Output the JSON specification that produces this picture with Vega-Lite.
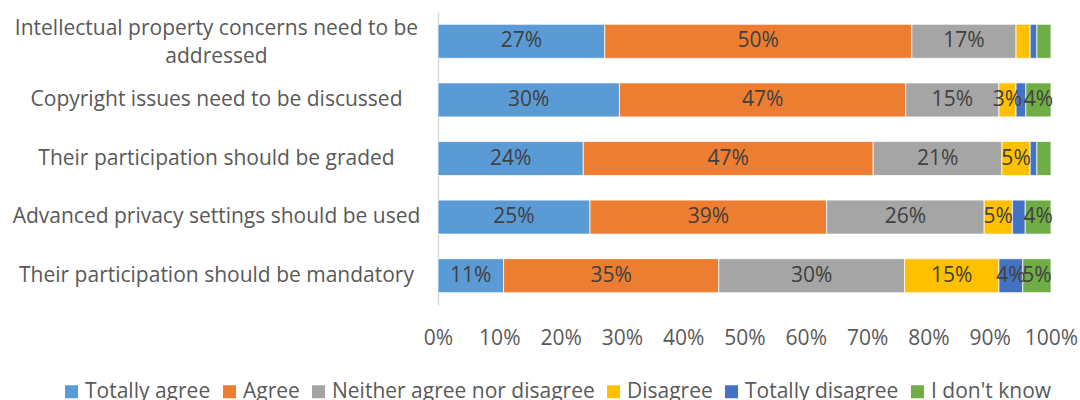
{
  "$schema": "https://vega.github.io/schema/vega-lite/v6.json",
  "autosize": {"type": "none"},
  "width": 613,
  "height": 293,
  "padding": {"left": 438, "top": 12, "right": 29, "bottom": 95},
  "config": {
    "font": "Open Sans",
    "view": {"stroke": null},
    "axis": {"labelFont": "Open Sans", "labelColor": "#595959", "labelFontSize": 21}
  },
  "data": {
    "values": [
      {"question": "Intellectual property concerns need to be addressed", "response": "Totally agree", "order": 1, "value": 0.272},
      {"question": "Intellectual property concerns need to be addressed", "response": "Agree", "order": 2, "value": 0.501},
      {"question": "Intellectual property concerns need to be addressed", "response": "Neither agree nor disagree", "order": 3, "value": 0.170},
      {"question": "Intellectual property concerns need to be addressed", "response": "Disagree", "order": 4, "value": 0.023},
      {"question": "Intellectual property concerns need to be addressed", "response": "Totally disagree", "order": 5, "value": 0.011},
      {"question": "Intellectual property concerns need to be addressed", "response": "I don't know", "order": 6, "value": 0.023},

      {"question": "Copyright issues need to be discussed", "response": "Totally agree", "order": 1, "value": 0.296},
      {"question": "Copyright issues need to be discussed", "response": "Agree", "order": 2, "value": 0.467},
      {"question": "Copyright issues need to be discussed", "response": "Neither agree nor disagree", "order": 3, "value": 0.152},
      {"question": "Copyright issues need to be discussed", "response": "Disagree", "order": 4, "value": 0.028},
      {"question": "Copyright issues need to be discussed", "response": "Totally disagree", "order": 5, "value": 0.016},
      {"question": "Copyright issues need to be discussed", "response": "I don't know", "order": 6, "value": 0.041},

      {"question": "Their participation should be graded", "response": "Totally agree", "order": 1, "value": 0.237},
      {"question": "Their participation should be graded", "response": "Agree", "order": 2, "value": 0.473},
      {"question": "Their participation should be graded", "response": "Neither agree nor disagree", "order": 3, "value": 0.210},
      {"question": "Their participation should be graded", "response": "Disagree", "order": 4, "value": 0.046},
      {"question": "Their participation should be graded", "response": "Totally disagree", "order": 5, "value": 0.011},
      {"question": "Their participation should be graded", "response": "I don't know", "order": 6, "value": 0.023},

      {"question": "Advanced privacy settings should be used", "response": "Totally agree", "order": 1, "value": 0.248},
      {"question": "Advanced privacy settings should be used", "response": "Agree", "order": 2, "value": 0.386},
      {"question": "Advanced privacy settings should be used", "response": "Neither agree nor disagree", "order": 3, "value": 0.257},
      {"question": "Advanced privacy settings should be used", "response": "Disagree", "order": 4, "value": 0.046},
      {"question": "Advanced privacy settings should be used", "response": "Totally disagree", "order": 5, "value": 0.021},
      {"question": "Advanced privacy settings should be used", "response": "I don't know", "order": 6, "value": 0.042},

      {"question": "Their participation should be mandatory", "response": "Totally agree", "order": 1, "value": 0.107},
      {"question": "Their participation should be mandatory", "response": "Agree", "order": 2, "value": 0.351},
      {"question": "Their participation should be mandatory", "response": "Neither agree nor disagree", "order": 3, "value": 0.303},
      {"question": "Their participation should be mandatory", "response": "Disagree", "order": 4, "value": 0.154},
      {"question": "Their participation should be mandatory", "response": "Totally disagree", "order": 5, "value": 0.039},
      {"question": "Their participation should be mandatory", "response": "I don't know", "order": 6, "value": 0.046}
    ]
  },
  "transform": [
    {"stack": "value", "groupby": ["question"], "sort": [{"field": "order", "order": "ascending"}], "as": ["v0", "v1"]},
    {"calculate": "(datum.v0 + datum.v1) / 2", "as": "mid"}
  ],
  "encoding": {
    "y": {
      "field": "question",
      "type": "nominal",
      "sort": [
        "Intellectual property concerns need to be addressed",
        "Copyright issues need to be discussed",
        "Their participation should be graded",
        "Advanced privacy settings should be used",
        "Their participation should be mandatory"
      ],
      "scale": {"paddingInner": 0.42, "paddingOuter": 0.21},
      "axis": {
        "title": null,
        "ticks": false,
        "domainColor": "#d9d9d9",
        "domainWidth": 1.5,
        "labelAlign": "center",
        "labelBaseline": "middle",
        "labelPadding": 222,
        "labelLimit": 600,
        "labelLineHeight": 28,
        "labelOffset": {"condition": {"test": "datum.value == 'Intellectual property concerns need to be addressed'", "value": -12}, "value": 0},
        "labelExpr": "datum.label == 'Intellectual property concerns need to be addressed' ? ['Intellectual property concerns need to be', 'addressed'] : datum.label"
      }
    }
  },
  "layer": [
    {
      "mark": {"type": "bar", "stroke": "white", "strokeWidth": 0.75},
      "encoding": {
        "x": {
          "field": "v0",
          "type": "quantitative",
          "scale": {"domain": [0, 1], "nice": false},
          "axis": {
            "title": null,
            "format": ".0%",
            "values": [0, 0.1, 0.2, 0.3, 0.4, 0.5, 0.6, 0.7, 0.8, 0.9, 1],
            "grid": false,
            "domain": false,
            "ticks": false,
            "labelPadding": 22,
            "labelFlush": false
          }
        },
        "x2": {"field": "v1"},
        "color": {
          "field": "response",
          "type": "nominal",
          "scale": {
            "domain": ["Totally agree", "Agree", "Neither agree nor disagree", "Disagree", "Totally disagree", "I don't know"],
            "range": ["#5B9BD5", "#ED7D31", "#A5A5A5", "#FFC000", "#4472C4", "#70AD47"]
          },
          "legend": {
            "title": null,
            "orient": "none",
            "legendX": -377,
            "legendY": 369,
            "direction": "horizontal",
            "columns": 6,
            "symbolType": "square",
            "symbolSize": 169,
            "symbolStrokeWidth": 0,
            "labelFont": "Open Sans",
            "labelFontSize": 21,
            "labelColor": "#595959",
            "labelLimit": 400,
            "labelOffset": 3,
            "columnPadding": 8
          }
        }
      }
    },
    {
      "transform": [{"filter": "datum.value >= 0.025"}],
      "mark": {"type": "text", "fontSize": 21, "color": "#404040", "font": "Open Sans"},
      "encoding": {
        "x": {"field": "mid", "type": "quantitative"},
        "text": {"field": "value", "type": "quantitative", "format": ".0%"}
      }
    }
  ]
}
